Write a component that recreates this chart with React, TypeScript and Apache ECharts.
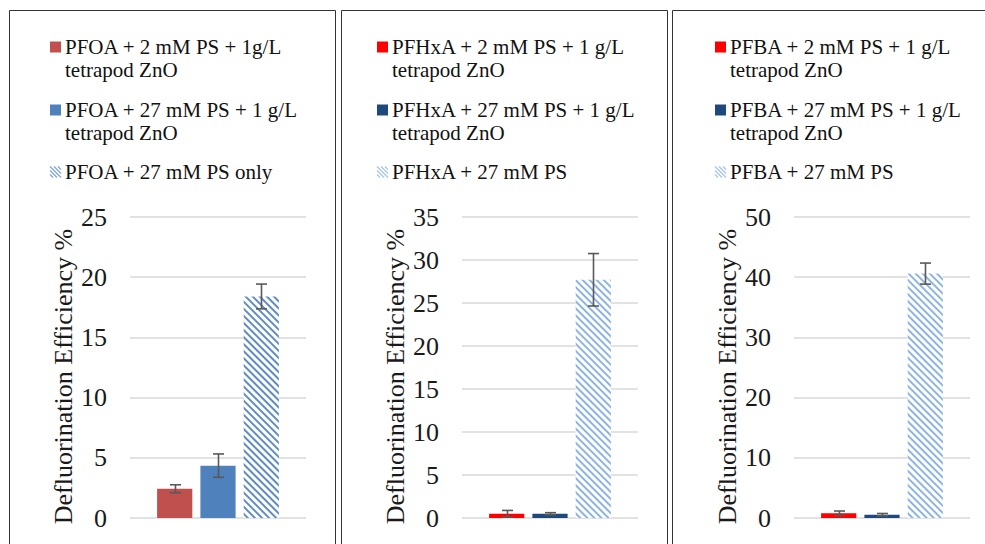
import React, { useEffect, useRef } from "react";
import * as echarts from "echarts";

// ---- data ----
const pfoaNames = [
  "PFOA + 2 mM PS + 1g/L\ntetrapod ZnO",
  "PFOA + 27 mM PS + 1 g/L\ntetrapod ZnO",
  "PFOA + 27 mM PS only",
];
const pfoaValues = [2.43, 4.35, 18.4];
const pfoaErrors = [0.33, 0.97, 1.03];

const pfhxaNames = [
  "PFHxA + 2 mM PS + 1 g/L\ntetrapod ZnO",
  "PFHxA + 27 mM PS + 1 g/L\ntetrapod ZnO",
  "PFHxA + 27 mM PS",
];
const pfhxaValues = [0.5, 0.5, 27.7];
const pfhxaErrors = [0.38, 0.12, 3.05];

const pfbaNames = [
  "PFBA + 2 mM PS + 1 g/L\ntetrapod ZnO",
  "PFBA + 27 mM PS + 1 g/L\ntetrapod ZnO",
  "PFBA + 27 mM PS",
];
const pfbaValues = [0.78, 0.55, 40.6];
const pfbaErrors = [0.38, 0.2, 1.75];

const yMaxes = [25, 35, 50];
const yIntervals = [5, 5, 10];
const yTitle = "Defluorination Efficiency %";

// ---- style ----
const FONT = "'Liberation Serif', 'Times New Roman', serif";
const panelColors = [
  ["#C0504D", "#4F81BD", "#5F8CC4"],
  ["#FF0000", "#1F497D", "#8DB4E2"],
  ["#FF0000", "#1F497D", "#8DB4E2"],
];
const gridLefts = [130, 462, 794];
const gridWidth = 176;
const gridTop = 217;
const gridBottom = 26;
const panelRects = [
  { x: 9.5, w: 326 },
  { x: 341.5, w: 326 },
  { x: 672.5, w: 330 },
];
const legendIconX = [50, 377, 715];
const legendTextX = [65, 392, 730];
const legendCenters = [47, 110, 172];

const BAR_W = 0.2;
const BAR_GAP = 0.23;

export default function App() {
  const ref = useRef<HTMLDivElement>(null);
  useEffect(() => {
    if (!ref.current) return;
    const chart = echarts.init(ref.current, undefined, { renderer: "svg" });
    const panels = [
      { names: pfoaNames, values: pfoaValues, errors: pfoaErrors },
      { names: pfhxaNames, values: pfhxaValues, errors: pfhxaErrors },
      { names: pfbaNames, values: pfbaValues, errors: pfbaErrors },
    ];

    const grid: any[] = [];
    const xAxis: any[] = [];
    const yAxis: any[] = [];
    const series: any[] = [];
    const graphic: any[] = [];

    panels.forEach((p, pi) => {
      grid.push({ left: gridLefts[pi], width: gridWidth, top: gridTop, bottom: gridBottom });
      xAxis.push({
        gridIndex: pi,
        type: "category",
        data: ["c"],
        axisLine: { show: false },
        axisTick: { show: false },
        axisLabel: { show: false },
      });
      yAxis.push({
        gridIndex: pi,
        type: "value",
        min: 0,
        max: yMaxes[pi],
        interval: yIntervals[pi],
        axisLine: { show: false },
        axisTick: { show: false },
        splitLine: { lineStyle: { color: "#d9d9d9", width: 1.5 } },
        axisLabel: { fontFamily: FONT, fontSize: 26, color: "#1a1a1a", margin: 23 },
        name: yTitle,
        nameLocation: "middle",
        nameRotate: 90,
        nameGap: 54,
        nameTextStyle: { fontFamily: FONT, fontSize: 26, color: "#1a1a1a", padding: [0, 18, 0, 0] },
      });
      p.values.forEach((v, si) => {
        const hatched = si === 2;
        series.push({
          type: "bar",
          name: p.names[si],
          xAxisIndex: pi,
          yAxisIndex: pi,
          data: [v],
          barWidth: BAR_W * 100 + "%",
          barGap: BAR_GAP * 100 + "%",
          itemStyle: hatched
            ? {
                color: "#ffffff",
                decal: {
                  symbol: "rect",
                  symbolSize: 1,
                  color: panelColors[pi][si],
                  backgroundColor: "#ffffff",
                  dashArrayX: [1, 0],
                  dashArrayY: [2, 3],
                  rotation: Math.PI / 4,
                },
              }
            : { color: panelColors[pi][si] },
        });
      });
      series.push({
        type: "custom",
        xAxisIndex: pi,
        yAxisIndex: pi,
        z: 10,
        data: p.values.map((v, si) => [0, v, p.errors[si], si]),
        renderItem: (params: any, api: any) => {
          const v = api.value(1);
          const e = api.value(2);
          const si = api.value(3);
          const c = api.coord([0, v]);
          const hi = api.coord([0, v + e]);
          const lo = api.coord([0, v - e]);
          const band = api.size([1, 0])[0];
          const bw = band * BAR_W;
          const gap = bw * BAR_GAP;
          const x = Math.round(c[0] + (si - 1) * (bw + gap)) + 0.5;
          const cap = 5.5;
          const style = { stroke: "#595959", lineWidth: 1.6 };
          return {
            type: "group",
            children: [
              { type: "line", shape: { x1: x, y1: hi[1], x2: x, y2: lo[1] }, style },
              { type: "line", shape: { x1: x - cap, y1: hi[1], x2: x + cap, y2: hi[1] }, style },
              { type: "line", shape: { x1: x - cap, y1: lo[1], x2: x + cap, y2: lo[1] }, style },
            ],
          };
        },
      });

      // panel border
      graphic.push({
        type: "rect",
        shape: { x: panelRects[pi].x, y: 10.5, width: panelRects[pi].w, height: 600 },
        style: { fill: "none", stroke: "#333333", lineWidth: 1 },
        silent: true,
      });

      // legend
      p.names.forEach((n, si) => {
        const cy = legendCenters[si];
        const ix = legendIconX[pi];
        if (si < 2) {
          graphic.push({
            type: "rect",
            shape: { x: ix, y: cy - 5.5, width: 11, height: 11 },
            style: { fill: panelColors[pi][si] },
          });
        } else {
          const kids: any[] = [];
          for (let d = -8; d <= 8; d += 4) {
            const x1 = ix + Math.max(0, d);
            const y1 = cy - 5.5 + Math.max(0, -d);
            const x2 = ix + 11 - Math.max(0, -d);
            const y2 = cy + 5.5 - Math.max(0, d);
            kids.push({
              type: "line",
              shape: { x1, y1, x2, y2 },
              style: { stroke: panelColors[pi][si], lineWidth: 1.4, opacity: 0.75 },
            });
          }
          graphic.push({ type: "group", children: kids });
        }
        graphic.push({
          type: "text",
          x: legendTextX[pi],
          y: cy - 11.5,
          style: {
            text: n,
            fontFamily: FONT,
            fontSize: 21,
            lineHeight: 23,
            fill: "#111111",
            verticalAlign: "top",
            align: "left",
          },
        });
      });
    });

    chart.setOption({
      animation: false,
      backgroundColor: "#ffffff",
      grid,
      xAxis,
      yAxis,
      series,
      graphic,
    });
    return () => chart.dispose();
  }, []);
  return (
    <div
      ref={ref}
      style={{ position: "absolute", left: 0, top: 0, width: 985, height: 544 }}
    />
  );
}
